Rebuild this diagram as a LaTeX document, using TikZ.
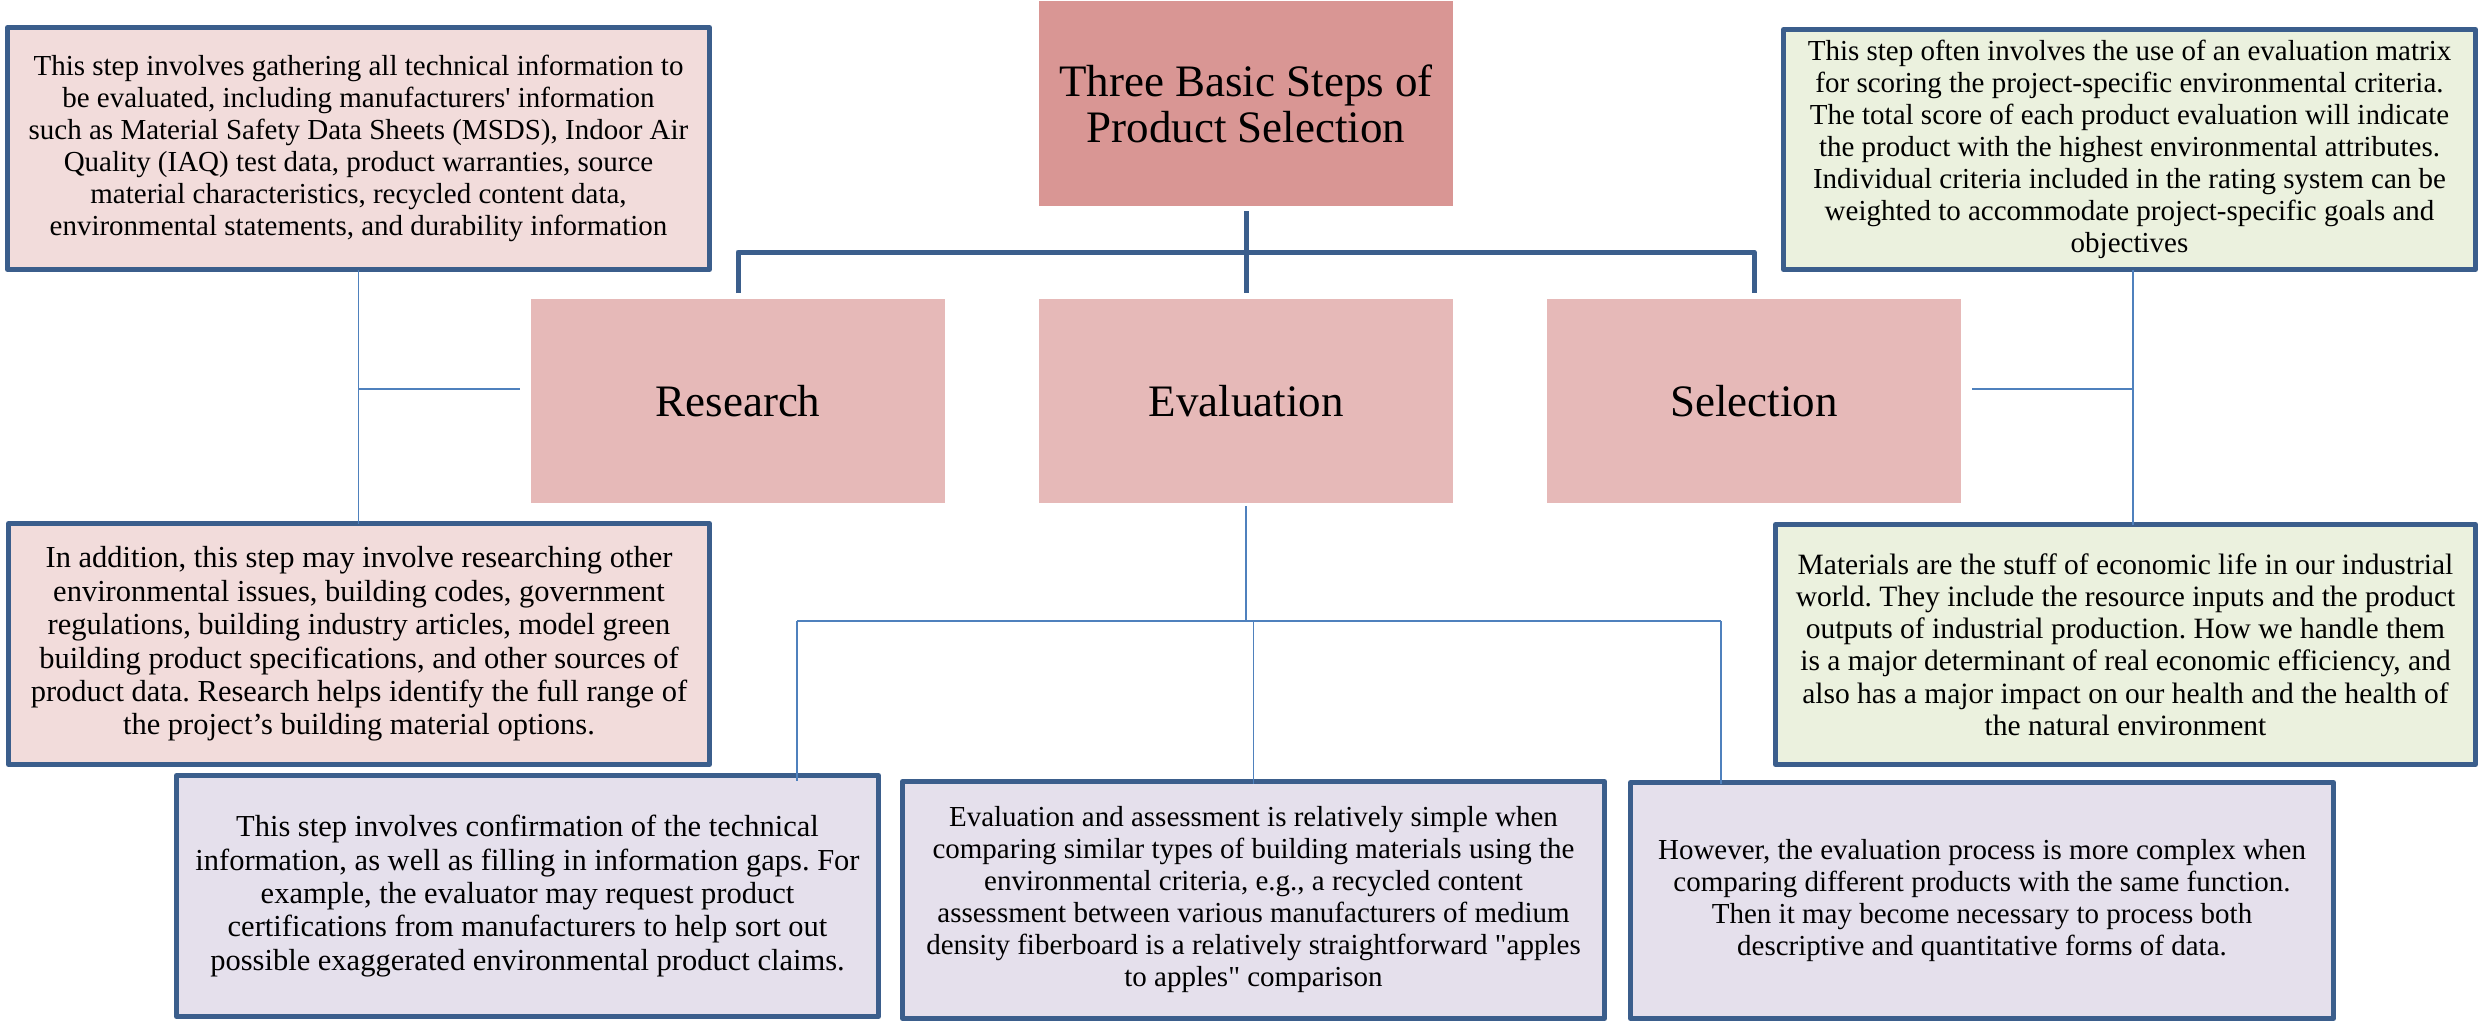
\documentclass[tikz,border=0pt]{standalone}
\usepackage{fontspec}
\setmainfont{Liberation Serif}
\usetikzlibrary{calc}
\definecolor{bordc}{RGB}{59,94,140}
\definecolor{thinc}{HTML}{4F81BD}
\definecolor{titlef}{HTML}{D99694}
\definecolor{lvlf}{HTML}{E6B9B8}
\definecolor{pinkf}{HTML}{F2DCDB}
\definecolor{greenf}{HTML}{EBF1DE}
\definecolor{purplef}{HTML}{E5E0EC}
\frenchspacing
\tikzset{
  textbox/.style={draw=bordc, line width=5pt, align=center, inner sep=0pt, outer sep=0pt, line join=round},
  headbox/.style={fill=lvlf, align=center, inner sep=0pt, outer sep=0pt, minimum width=414pt, minimum height=204pt, font=\fontsize{45}{50}\selectfont},
  bar/.style={draw=bordc, line width=5pt, line join=round},
  thin/.style={draw=thinc, line width=1.6pt},
  smalltxt/.style={font=\fontsize{29}{32}\selectfont},
  bigtxt/.style={font=\fontsize{30.5}{33.4}\selectfont}
}
\begin{document}
\begin{tikzpicture}[x=1pt,y=-1pt]
\useasboundingbox[fill=white] (0,0) rectangle (2483,1023);

% title and level-2 boxes
\node[headbox, fill=titlef, minimum height=205pt, font=\fontsize{45}{46}\selectfont] (title) at (1246,103.5) {Three Basic Steps of\\Product Selection};
\node[headbox] (research) at (738,401) {Research};
\node[headbox] (eval) at (1246,401) {Evaluation};
\node[headbox] (select) at (1754,401) {Selection};

% description boxes
\node[textbox, smalltxt, fill=pinkf, minimum width=702pt, minimum height=242pt] (b1) at (358.5,148.5)
 {This step involves gathering all technical information to\\
  be evaluated, including manufacturers\textquotesingle\ information\\
  such as Material Safety Data Sheets (MSDS), Indoor Air\\
  Quality (IAQ) test data, product warranties, source\\
  material characteristics, recycled content data,\\
  environmental statements, and durability information};

\node[textbox, bigtxt, fill=pinkf, minimum width=701pt, minimum height=241pt] (b2) at (359,644)
 {In addition, this step may involve researching other\\
  environmental issues, building codes, government\\
  regulations, building industry articles, model green\\
  building product specifications, and other sources of\\
  product data. Research helps identify the full range of\\
  the project’s building material options.};

\node[textbox, smalltxt, fill=greenf, minimum width=692pt, minimum height=240pt] (g1) at (2129.5,149.5)
 {This step often involves the use of an evaluation matrix\\
  for scoring the project-specific environmental criteria.\\
  The total score of each product evaluation will indicate\\
  the product with the highest environmental attributes.\\
  Individual criteria included in the rating system can be\\
  weighted to accommodate project-specific goals and\\
  objectives};

\node[textbox, font=\fontsize{29.5}{32.3}\selectfont, fill=greenf, minimum width=700pt, minimum height=240pt] (g2) at (2125.5,644.5)
 {Materials are the stuff of economic life in our industrial\\
  world. They include the resource inputs and the product\\
  outputs of industrial production. How we handle them\\
  is a major determinant of real economic efficiency, and\\
  also has a major impact on our health and the health of\\
  the natural environment};

\node[textbox, bigtxt, fill=purplef, minimum width=702pt, minimum height=241pt] (pa) at (527.5,896)
 {This step involves confirmation of the technical\\
  information, as well as filling in information gaps. For\\
  example, the evaluator may request product\\
  certifications from manufacturers to help sort out\\
  possible exaggerated environmental product claims.};

\node[textbox, smalltxt, fill=purplef, minimum width=702pt, minimum height=237pt] (pb) at (1253.5,900)
 {Evaluation and assessment is relatively simple when\\
  comparing similar types of building materials using the\\
  environmental criteria, e.g., a recycled content\\
  assessment between various manufacturers of medium\\
  density fiberboard is a relatively straightforward \textquotedbl apples\\
  to apples\textquotedbl\ comparison};

\node[textbox, smalltxt, fill=purplef, minimum width=703pt, minimum height=236pt] (pc) at (1982,900.5)
 {However, the evaluation process is more complex when\\
  comparing different products with the same function.\\
  Then it may become necessary to process both\\
  descriptive and quantitative forms of data.};

% hierarchy bar
\draw[bar] ([yshift=-5pt]title.south) -- ([yshift=6pt]eval.north);
\draw[bar] ([yshift=6pt]research.north) -- ++(0,-41) -| ([yshift=6pt]select.north);

% left thin connector
\coordinate (lj) at (358.5,389);
\draw[thin] (lj |- b1.south) -- (lj |- b2.north);
\draw[thin] (lj) -- ($(lj -| research.west)+(-11,0)$);

% right thin connector
\coordinate (rj) at (2133,389);
\draw[thin] (rj |- g1.south) -- (rj |- g2.north);
\draw[thin] (rj) -- ($(rj -| select.east)+(11,0)$);

% evaluation connectors
\coordinate (ea) at (797,621);
\coordinate (ec) at (1721,621);
\draw[thin] ([yshift=-3pt]eval.south) -- (eval.south |- ea);
\draw[thin] (ea) -- (ec);
\draw[thin] (ea) -- ($(ea |- pa.north)+(0,5)$);
\draw[thin] (pb.north |- ea) -- ($(pb.north)+(0,2)$);
\draw[thin] (ec) -- ($(ec |- pc.north)+(0,1)$);
\end{tikzpicture}
\end{document}
